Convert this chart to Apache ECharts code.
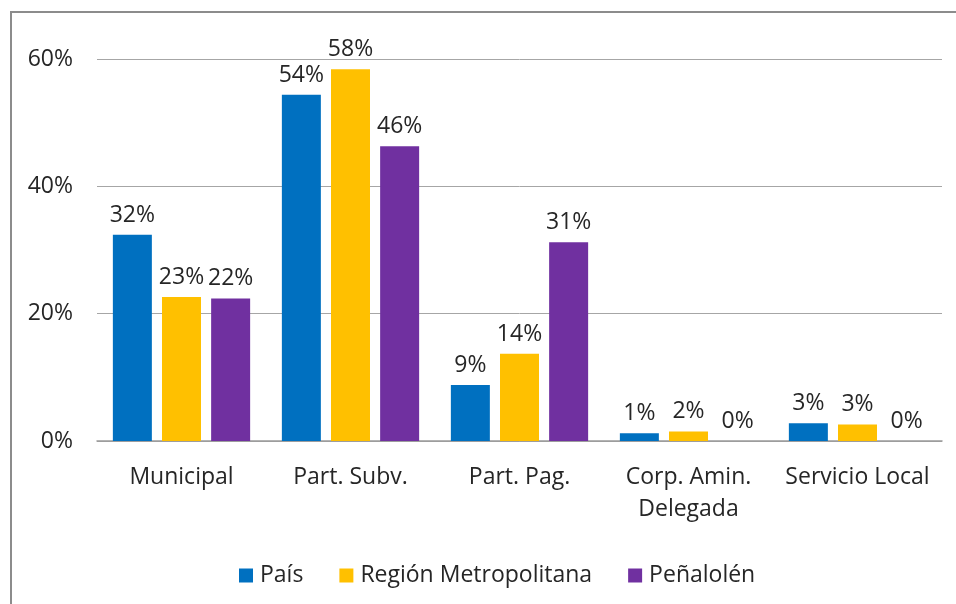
<!DOCTYPE html>
<html>
<head>
<meta charset="utf-8">
<script src="https://cdn.jsdelivr.net/npm/echarts@6/dist/echarts.min.js"></script>
<style>
  html, body { margin: 0; padding: 0; background: #fff; overflow: hidden; }
  #frame { position: absolute; left: 10px; top: 11px; width: 1000px; height: 700px; border: 2px solid #8c8c8c; box-sizing: border-box; }
  #chart { position: absolute; left: 0; top: 0; width: 956px; height: 604px; }
</style>
</head>
<body>
<div id="frame"></div>
<div id="chart"></div>
<script>
// categorías y series (valores en %)
const categories = ["Municipal", "Part. Subv.", "Part. Pag.", "Corp. Amin.\nDelegada", "Servicio Local"];
const pais = [32.4, 54.4, 8.8, 1.2, 2.8];
const region = [22.6, 58.4, 13.7, 1.5, 2.6];
const penalolen = [22.4, 46.3, 31.2, 0, 0];
const yTicks = [0, 20, 40, 60];

const font = "Open Sans";
const textColor = "#262626";
const fs = 23;

const chart = echarts.init(document.getElementById("chart"));

const labelOpt = {
  show: true,
  position: "top",
  distance: 8,
  fontFamily: font,
  fontSize: fs,
  color: textColor,
  formatter: p => Math.round(p.value) + "%"
};

function bar(name, data, color) {
  return {
    name: name,
    type: "bar",
    data: data,
    barWidth: 39,
    barGap: "26%",
    itemStyle: { color: color },
    label: labelOpt
  };
}

const option = {
  animation: false,
  textStyle: { fontFamily: font },
  grid: { left: 97, right: 14, top: 59, bottom: 163 },
  legend: {
    left: 234,
    top: 559,
    itemWidth: 14,
    itemHeight: 14,
    itemGap: 36,
    icon: "rect",
    textStyle: { fontFamily: font, fontSize: fs, color: textColor, padding: [0, 0, 0, 2] },
    data: ["País", "Región Metropolitana", "Peñalolén"]
  },
  xAxis: {
    type: "category",
    data: categories,
    axisLine: { lineStyle: { color: "#9a9a9a", width: 1.5 } },
    axisTick: { show: false },
    axisLabel: { interval: 0, fontFamily: font, fontSize: fs, color: textColor, margin: 20, lineHeight: 32 }
  },
  yAxis: {
    type: "value",
    min: yTicks[0],
    max: yTicks[yTicks.length - 1],
    interval: 20,
    axisLine: { show: false },
    axisTick: { show: false },
    axisLabel: { fontFamily: font, fontSize: fs, color: textColor, margin: 24, formatter: "{value}%" },
    splitLine: { lineStyle: { color: "#a6a6a6", width: 1 } }
  },
  series: [
    bar("País", pais, "#0070C0"),
    bar("Región Metropolitana", region, "#FFC000"),
    bar("Peñalolén", penalolen, "#7030A0")
  ]
};

chart.setOption(option);
</script>
</body>
</html>
